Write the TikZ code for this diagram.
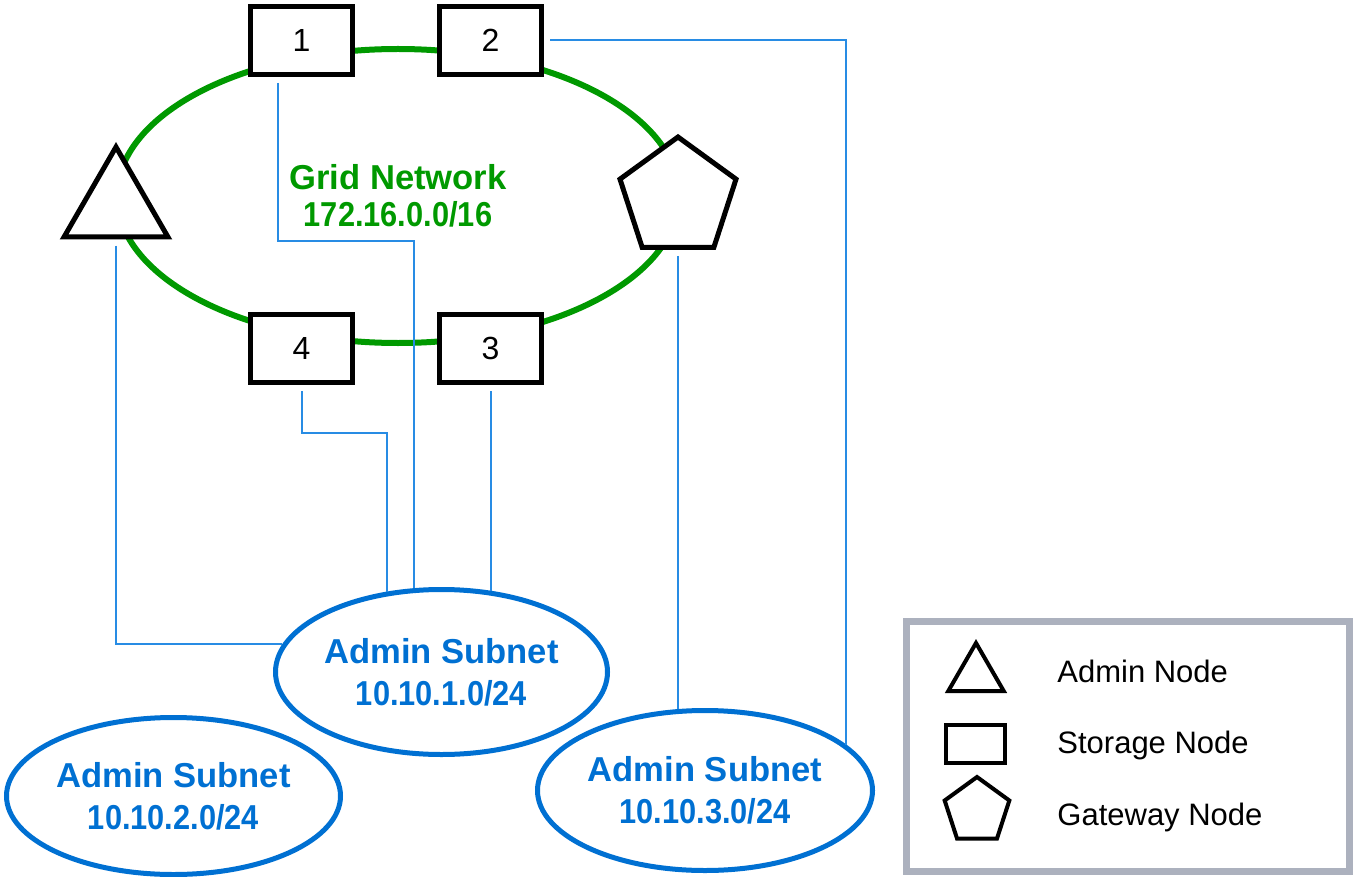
\documentclass[tikz,border=0pt]{standalone}
\usepackage{fontspec}
\setmainfont{Liberation Sans}
\usepackage{graphicx}
\usepackage{tikz}
\usetikzlibrary{shapes.geometric,positioning}
\definecolor{gridgreen}{RGB}{0,153,0}
\definecolor{subblue}{RGB}{0,112,210}
\definecolor{wireblue}{RGB}{40,140,228}
\definecolor{legendgray}{RGB}{172,177,190}
\newcommand{\ipnum}[1]{\scalebox{0.89}[1]{#1}}
\tikzstyle{storage} = [rectangle, minimum width=51pt, minimum height=34pt, inner sep=0pt, line width=2.5pt, draw=black, fill=white, font=\fontsize{16}{19}\selectfont]
\tikzstyle{admin} = [regular polygon, regular polygon sides=3, minimum size=60pt, inner sep=0pt, line width=2.5pt, draw=black, fill=white]
\tikzstyle{gateway} = [regular polygon, regular polygon sides=5, minimum size=61pt, inner sep=0pt, line width=2.5pt, draw=black, fill=white]
\tikzstyle{gridnet} = [ellipse, minimum width=281pt, minimum height=147pt, line width=3pt, draw=gridgreen, text=gridgreen, align=center, font=\fontsize{17.3}{18.5}\selectfont\bfseries]
\tikzstyle{subnet} = [ellipse, minimum width=166pt, minimum height=82.5pt, inner sep=0pt, line width=2.5pt, draw=subblue, text=subblue, align=center, font=\fontsize{17.3}{21}\selectfont\bfseries]
\tikzstyle{wire} = [line width=1pt, draw=wireblue, shorten <=3pt]
\tikzstyle{legendbox} = [rectangle, minimum width=221.5pt, minimum height=125pt, line width=3.5pt, draw=legendgray]
\tikzstyle{legendtext} = [anchor=base west, inner sep=0pt, font=\fontsize{15.5}{18}\selectfont]

\begin{document}
\begin{tikzpicture}[x=0.5pt, y=-0.5pt]
	\useasboundingbox (0,0) rectangle (1353,877);
	% grid network ring
	\node (grid) [gridnet] at (398,196) {Grid Network\\\ipnum{172.16.0.0/16}};

	\node (s1) [storage] at (301.5,40.5) {1};
	\node (s2) [storage, right = 41pt of s1] {2};
	\node (s4) [storage, below = 117.5pt of s1] {4};
	\node (s3) [storage, right = 41pt of s4] {3};
	\node (adm) [admin] at (116,207) {};
	\node (gw) [gateway] at (678,198) {};

	% admin subnets
	\node (sub1) [subnet] at (441.5,672) {Admin Subnet\\\ipnum{10.10.1.0/24}};
	\node (sub2) [subnet, minimum width=167pt, minimum height=78.5pt] at (173.5,796) {Admin Subnet\\\ipnum{10.10.2.0/24}};
	\node (sub3) [subnet, minimum width=167.5pt, minimum height=80pt] at (705,790.5) {Admin Subnet\\\ipnum{10.10.3.0/24}};

	\draw [wire] (s2.east) -| (sub3.18);
	\draw [wire] (s1.237) -- ++(0,164) -| (sub1.108);
	\draw [wire] (s4.south) -- ++(0,47.5) -| (sub1.124);
	\draw [wire] (s3.south) -- (s3.south |- sub1.58);
	\draw [wire] (adm.south) |- (sub1.170);
	\draw [wire] (gw.south) -- (gw.south |- sub3.107);

	% legend
	\node (legend) [legendbox] at (1128,746.5) {};
	\node (ladm) [admin, minimum size=32pt, line width=2pt] at (976,675) {};
	\node (lsto) [storage, minimum width=29.5pt, minimum height=19pt, line width=2pt] at (975.5,744) {};
	\node (lgw) [gateway, minimum size=34pt, line width=2pt] at (977,811) {};
	\node (tadm) [legendtext] at (1057,682) {Admin Node};
	\node (tsto) [legendtext] at (1057,753) {Storage Node};
	\node (tgw) [legendtext] at (1057,825) {Gateway Node};
\end{tikzpicture}
\end{document}
